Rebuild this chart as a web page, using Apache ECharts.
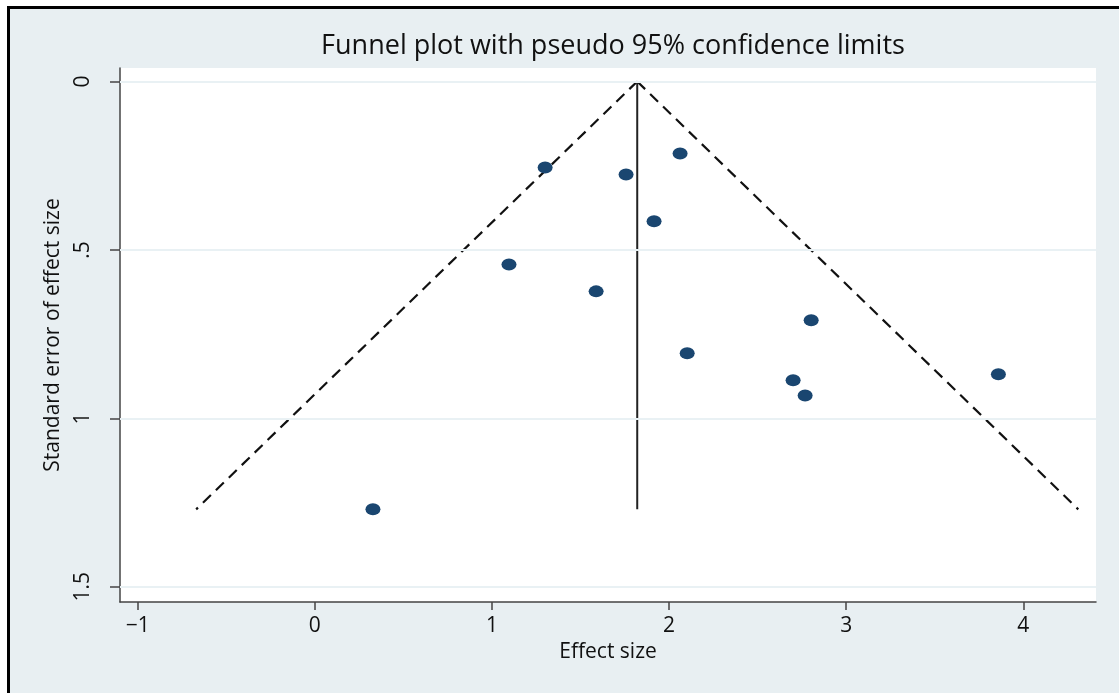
<!DOCTYPE html>
<html>
<head>
<meta charset="utf-8">
<script src="https://cdn.jsdelivr.net/npm/echarts@6/dist/echarts.min.js"></script>
<style>
html,body{margin:0;padding:0;background:#ffffff;}
#chart{width:1119px;height:693px;}
</style>
</head>
<body>
<div id="chart"></div>
<script>
// ---- data ----
const titleText = 'Funnel plot with pseudo 95% confidence limits';
const xAxisName = 'Effect size';
const yAxisName = 'Standard error of effect size';
const effectSize = [1.30, 1.757, 2.062, 1.915, 1.096, 1.588, 2.802, 2.102, 2.70, 2.768, 3.859, 0.328];
const stdError   = [0.255, 0.276, 0.214, 0.415, 0.543, 0.623, 0.709, 0.807, 0.887, 0.932, 0.869, 1.270];
const pooledLine = [[1.82, 0], [1.82, 1.27]];
const lowerLimit = [[1.82, 0], [-0.67, 1.27]];
const upperLimit = [[1.82, 0], [4.31, 1.27]];
const xTickValues = [-1, 0, 1, 2, 3, 4];
const xTickLabels = ['\u22121', '0', '1', '2', '3', '4'];
const yTickValues = [0, 0.5, 1, 1.5];
const yTickLabels = ['0', '.5', '1', '1.5'];

const FONT = 'Open Sans';
const chart = echarts.init(document.getElementById('chart'), null, {renderer: 'canvas'});
const points = effectSize.map((x, i) => [x, stdError[i]]);

chart.setOption({
  backgroundColor: '#ffffff',
  animation: false,
  graphic: [
    {type: 'rect', z: -10, shape: {x: 8.5, y: 7.5, width: 1200, height: 800},
     style: {fill: '#e8eff2', stroke: '#000000', lineWidth: 3}}
  ],
  title: {
    text: titleText, left: 608, textAlign: 'center', top: 28,
    textStyle: {fontFamily: FONT, fontSize: 27, fontWeight: 'normal', color: '#111'}
  },
  grid: {left: 120, right: 23, top: 68, bottom: 91, show: true, backgroundColor: '#ffffff', borderWidth: 0},
  xAxis: {
    type: 'value', min: -1.1, max: 4.41,
    name: xAxisName, nameLocation: 'middle', nameGap: 40,
    nameTextStyle: {fontFamily: FONT, fontSize: 21, color: '#111'},
    axisLine: {show: true, onZero: false, lineStyle: {color: '#444', width: 1.5}},
    axisTick: {show: true, length: 8, customValues: xTickValues, lineStyle: {color: '#444', width: 1.5}},
    axisLabel: {customValues: xTickValues, fontFamily: FONT, fontSize: 21, color: '#111', margin: 14,
      formatter: v => xTickLabels[xTickValues.indexOf(v)]},
    splitLine: {show: false}
  },
  yAxis: {
    type: 'value', inverse: true, min: -0.04, max: 1.545,
    name: yAxisName, nameLocation: 'middle', nameGap: 56, nameRotate: 90,
    nameTextStyle: {fontFamily: FONT, fontSize: 21, color: '#111'},
    axisLine: {show: true, onZero: false, lineStyle: {color: '#444', width: 1.5}},
    axisTick: {show: true, length: 10, customValues: yTickValues, lineStyle: {color: '#444', width: 1.5}},
    axisLabel: {customValues: yTickValues, rotate: 90, fontFamily: FONT, fontSize: 21, color: '#111', margin: 26,
      formatter: v => yTickLabels[yTickValues.indexOf(v)]},
    splitLine: {show: false}
  },
  series: [
    {type: 'line', data: [], silent: true,
     markLine: {silent: true, symbol: 'none', label: {show: false},
       lineStyle: {color: '#e9f1f4', width: 2, type: 'solid'},
       data: yTickValues.map(v => ({yAxis: v}))}},
    {type: 'line', data: lowerLimit, symbol: 'none', silent: true,
     lineStyle: {color: '#111', width: 2.2, type: [11, 7]}},
    {type: 'line', data: upperLimit, symbol: 'none', silent: true,
     lineStyle: {color: '#111', width: 2.2, type: [11, 7]}},
    {type: 'line', data: pooledLine, symbol: 'none', silent: true,
     lineStyle: {color: '#222', width: 2}},
    {type: 'scatter', data: points, symbol: 'circle', symbolSize: [15, 12],
     itemStyle: {color: '#1a4670', opacity: 1}, z: 5}
  ]
});
</script>
</body>
</html>
